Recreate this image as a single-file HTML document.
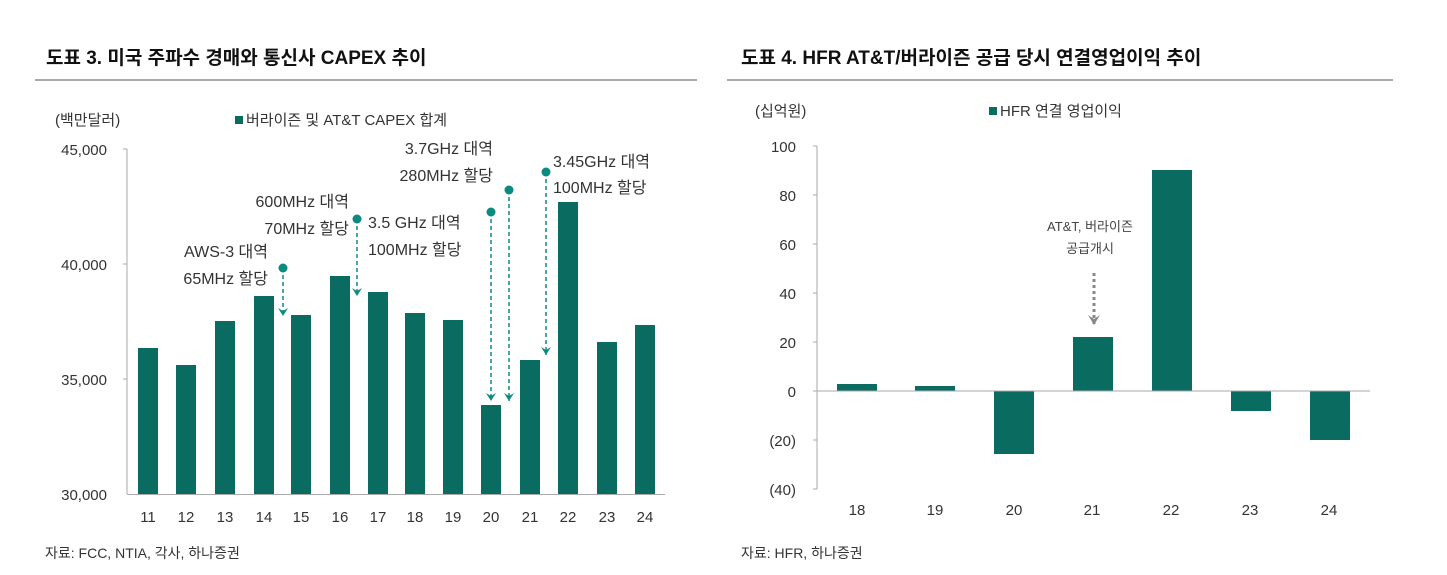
<!DOCTYPE html>
<html><head><meta charset="utf-8"><style>
html,body{margin:0;padding:0;background:#fff;}
svg{display:block;font-family:"Liberation Sans","Noto Sans CJK KR",sans-serif;}
</style></head><body>
<svg width="1447" height="575" viewBox="0 0 1447 575">
<defs>
<marker id="ah" markerWidth="10" markerHeight="12" refX="8" refY="5" orient="auto" markerUnits="userSpaceOnUse"><path d="M0,0 L8,5 L0,10 L3,5 Z" fill="#0b8a80"/></marker>
<marker id="ag" markerWidth="12" markerHeight="14" refX="10" refY="6" orient="auto" markerUnits="userSpaceOnUse"><path d="M0,0 L10,6 L0,12 L4,6 Z" fill="#888"/></marker>
</defs>
<g fill="#111" font-weight="bold" font-size="19">
<text x="46" y="64">도표 3. 미국 주파수 경매와 통신사 CAPEX 추이</text>
<text x="741" y="64">도표 4. HFR AT&amp;T/버라이즌 공급 당시 연결영업이익 추이</text>
</g>
<line x1="35" y1="80" x2="697" y2="80" stroke="#aaa" stroke-width="2"/>
<line x1="727" y1="80" x2="1393" y2="80" stroke="#aaa" stroke-width="2"/>

<!-- Left chart -->
<g font-size="15" fill="#333">
<text x="55" y="125">(백만달러)</text>
<rect x="235" y="116" width="8" height="8" fill="#0a6b60"/>
<text x="246" y="125">버라이즌 및 AT&amp;T CAPEX 합계</text>
<g text-anchor="end"><text x="107" y="155">45,000</text><text x="107" y="270">40,000</text><text x="107" y="385">35,000</text><text x="107" y="500">30,000</text></g>
</g>
<g stroke="#aaa" stroke-width="1">
<line x1="127" y1="149" x2="127" y2="494"/>
<line x1="123" y1="149" x2="127" y2="149"/><line x1="123" y1="264" x2="127" y2="264"/><line x1="123" y1="379" x2="127" y2="379"/>
<line x1="127" y1="494.5" x2="665" y2="494.5"/>
</g>
<g fill="#0a6b60">
<rect x="138" y="348" width="20" height="146"/>
<rect x="176" y="365" width="20" height="129"/>
<rect x="215" y="321" width="20" height="173"/>
<rect x="254" y="296" width="20" height="198"/>
<rect x="291" y="315" width="20" height="179"/>
<rect x="330" y="276" width="20" height="218"/>
<rect x="368" y="292" width="20" height="202"/>
<rect x="405" y="313" width="20" height="181"/>
<rect x="443" y="320" width="20" height="174"/>
<rect x="481" y="405" width="20" height="89"/>
<rect x="520" y="360" width="20" height="134"/>
<rect x="558" y="202" width="20" height="292"/>
<rect x="597" y="342" width="20" height="152"/>
<rect x="635" y="325" width="20" height="169"/>
</g>
<g font-size="15" fill="#333" text-anchor="middle">
<text x="148" y="522">11</text><text x="186" y="522">12</text><text x="225" y="522">13</text><text x="264" y="522">14</text><text x="301" y="522">15</text><text x="340" y="522">16</text><text x="378" y="522">17</text><text x="415" y="522">18</text><text x="453" y="522">19</text><text x="491" y="522">20</text><text x="530" y="522">21</text><text x="568" y="522">22</text><text x="607" y="522">23</text><text x="645" y="522">24</text>
</g>
<g stroke="#0b8a80" stroke-width="1.5" stroke-dasharray="4,3" fill="none">
<line x1="283" y1="268" x2="283" y2="316" marker-end="url(#ah)"/>
<line x1="357" y1="219" x2="357" y2="296" marker-end="url(#ah)"/>
<line x1="491" y1="212" x2="491" y2="401" marker-end="url(#ah)"/>
<line x1="509" y1="190" x2="509" y2="401" marker-end="url(#ah)"/>
<line x1="546" y1="172" x2="546" y2="355" marker-end="url(#ah)"/>
</g>
<g fill="#0b8a80">
<circle cx="283" cy="268" r="4.5"/><circle cx="357" cy="219" r="4.5"/><circle cx="491" cy="212" r="4.5"/><circle cx="509" cy="190" r="4.5"/><circle cx="546" cy="172" r="4.5"/>
</g>
<g font-size="16" fill="#333">
<g text-anchor="end">
<text x="268" y="257">AWS-3 대역</text><text x="268" y="284">65MHz 할당</text>
<text x="349" y="207">600MHz 대역</text><text x="349" y="234">70MHz 할당</text>
<text x="493" y="154">3.7GHz 대역</text><text x="493" y="181">280MHz 할당</text>
</g>
<text x="368" y="228">3.5 GHz 대역</text><text x="368" y="255">100MHz 할당</text>
<text x="553" y="167">3.45GHz 대역</text><text x="553" y="193">100MHz 할당</text>
</g>
<text x="45" y="558" font-size="14" fill="#333">자료: FCC, NTIA, 각사, 하나증권</text>

<!-- Right chart -->
<g font-size="15" fill="#333">
<text x="755" y="116">(십억원)</text>
<rect x="989" y="107" width="8" height="8" fill="#0a6b60"/>
<text x="1000" y="116">HFR 연결 영업이익</text>
<g text-anchor="end">
<text x="796" y="152">100</text><text x="796" y="201">80</text><text x="796" y="250">60</text><text x="796" y="299">40</text><text x="796" y="348">20</text><text x="796" y="397">0</text><text x="796" y="446">(20)</text><text x="796" y="495">(40)</text>
</g>
</g>
<g stroke="#aaa" stroke-width="1">
<line x1="817" y1="146" x2="817" y2="489"/>
<line x1="813" y1="146" x2="817" y2="146"/><line x1="813" y1="195" x2="817" y2="195"/><line x1="813" y1="244" x2="817" y2="244"/><line x1="813" y1="293" x2="817" y2="293"/><line x1="813" y1="342" x2="817" y2="342"/><line x1="813" y1="391" x2="817" y2="391"/><line x1="813" y1="440" x2="817" y2="440"/><line x1="813" y1="489" x2="817" y2="489"/>
</g>
<g fill="#0a6b60">
<rect x="837" y="384" width="40" height="7"/>
<rect x="915" y="386" width="40" height="5"/>
<rect x="994" y="391" width="40" height="63"/>
<rect x="1073" y="337" width="40" height="54"/>
<rect x="1152" y="170" width="40" height="221"/>
<rect x="1231" y="391" width="40" height="20"/>
<rect x="1310" y="391" width="40" height="49"/>
</g>
<line x1="817" y1="391" x2="1370" y2="391" stroke="#aaa" stroke-width="1"/>
<g font-size="15" fill="#333" text-anchor="middle">
<text x="857" y="515">18</text><text x="935" y="515">19</text><text x="1014" y="515">20</text><text x="1092" y="515">21</text><text x="1171" y="515">22</text><text x="1250" y="515">23</text><text x="1329" y="515">24</text>
</g>
<g font-size="13" fill="#444" text-anchor="middle">
<text x="1090" y="231">AT&amp;T, 버라이즌</text><text x="1090" y="253">공급개시</text>
</g>
<line x1="1094" y1="273" x2="1094" y2="325" stroke="#888" stroke-width="3" stroke-dasharray="3,3" marker-end="url(#ag)"/>
<text x="741" y="558" font-size="14" fill="#333">자료: HFR, 하나증권</text>
</svg>
</body></html>
